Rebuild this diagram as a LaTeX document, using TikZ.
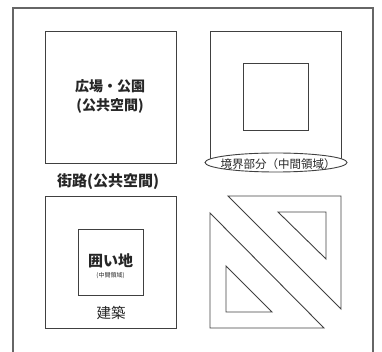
\documentclass[tikz,border=0pt]{standalone}
\usepackage{fontspec}
\setmainfont{Noto Sans CJK JP}
\usetikzlibrary{shapes.geometric}
\tikzset{
  ln/.style={draw=black!75, line width=0.9pt},
  frame/.style={draw=black!60, line width=1.3pt},
  lbl/.style={inner sep=0pt, align=center, text=black!85},
}
\begin{document}
\begin{tikzpicture}[x=1pt,y=-1pt]
\useasboundingbox (0,0) rectangle (382,352);
% outer frame (open at the bottom)
\draw[frame] (13,352) -- (13,8) -- (373,8) -- (373,352);
% top-left
\node[ln, minimum width=131pt, minimum height=132pt, inner sep=0pt] (plaza) at (110.5,97) {};
\node[lbl, font=\bfseries\fontsize{14}{19}\selectfont] (plazat) at (110,96) {広場・公園\\(公共空間)};
\node[lbl, font=\bfseries\fontsize{15}{18}\selectfont] (street) at (108,182) {街路(公共空間)};
% top-right
\draw[ln] (210,163) -- (210,31) -- (341,31) -- (341,163);
\node[ln, minimum width=65pt, minimum height=67pt, inner sep=0pt] (inner) at (275.5,96.5) {};
\node[ellipse, ln, fill=white, minimum width=142pt, minimum height=19pt, inner sep=0pt] (border) at (276,162.5) {};
\node[lbl, font=\fontsize{11.5}{13}\selectfont] (bordert) at (278,164) {境界部分（中間領域）};
% bottom-left
\node[ln, minimum width=131pt, minimum height=132pt, inner sep=0pt] (bldg) at (110.5,262) {};
\node[ln, minimum width=65pt, minimum height=66pt, inner sep=0pt] (encl) at (110.5,262) {};
\node[lbl, font=\bfseries\fontsize{15}{18}\selectfont] (enclt) at (110.5,261) {囲い地};
\node[lbl, font=\fontsize{6}{7}\selectfont] (enclsub) at (110.5,276) {(中間領域)};
\node[lbl, font=\fontsize{14.5}{17}\selectfont] (bldgt) at (111,313) {建築};
% bottom-right
\draw[ln] (228,196) -- (341,196) -- (341,309) -- cycle;
\draw[ln] (278,212) -- (326,212) -- (326,259) -- cycle;
\draw[ln] (210,213) -- (210,328) -- (324,328) -- cycle;
\draw[ln] (226,266) -- (226,312) -- (272,312) -- cycle;
\end{tikzpicture}
\end{document}
